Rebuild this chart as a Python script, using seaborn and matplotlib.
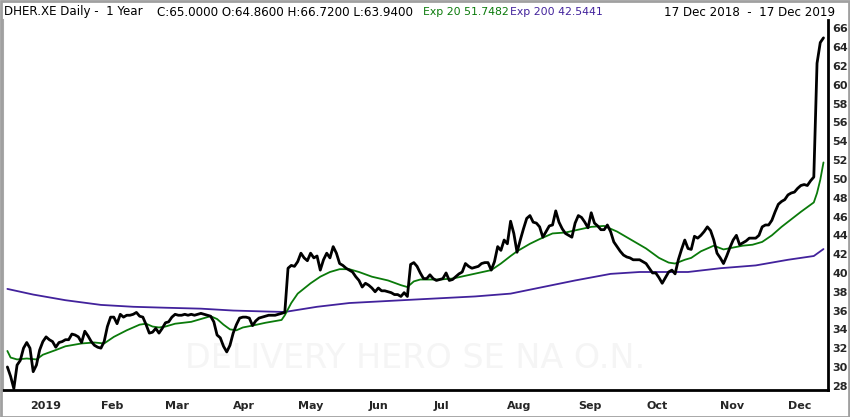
import numpy as np
import pandas as pd
import matplotlib
matplotlib.use("Agg")
import matplotlib.pyplot as plt
import seaborn as sns

# Xetra sessions 17 Dec 2018 - 17 Dec 2019
holidays = ["2018-12-24", "2018-12-25", "2018-12-26", "2018-12-31",
            "2019-01-01", "2019-04-19", "2019-04-22", "2019-05-01"]
sessions = pd.bdate_range("2018-12-17", "2019-12-17", freq="C", holidays=holidays)

# daily close (one value per session)
close = [
    30.0, 29.0, 27.7, 30.2, 30.7, 32.0, 32.6, 32.0, 29.5, 30.2,
    31.8, 32.7, 33.2, 32.9, 32.7, 32.1, 32.6, 32.7, 32.9, 32.9,
    33.5, 33.4, 33.2, 32.6, 33.8, 33.3, 32.7, 32.3, 32.1, 32.0,
    32.7, 34.3, 35.3, 35.3, 34.6, 35.6, 35.3, 35.5, 35.5, 35.6,
    35.8, 35.4, 35.3, 34.5, 33.6, 33.7, 34.1, 33.6, 34.1, 34.7,
    34.8, 35.3, 35.6, 35.5, 35.5, 35.6, 35.5, 35.6, 35.5, 35.6,
    35.7, 35.6, 35.5, 35.4, 34.8, 33.4, 33.1, 32.2, 31.6, 32.3,
    33.6, 34.5, 35.2, 35.3, 35.3, 35.2, 34.4, 34.9, 35.2, 35.3,
    35.4, 35.5, 35.5, 35.5, 35.6, 35.7, 35.8, 40.5, 40.8, 40.7,
    41.2, 42.1, 41.6, 41.3, 42.1, 41.6, 41.8, 40.3, 41.4, 42.1,
    41.6, 42.8, 42.1, 41.0, 40.8, 40.5, 40.3, 40.1, 39.6, 39.2,
    38.5, 38.9, 38.7, 38.4, 38.0, 38.4, 38.1, 38.1, 38.0, 37.9,
    37.7, 37.7, 37.5, 37.9, 37.5, 40.9, 41.1, 40.7, 40.0, 39.4,
    39.4, 39.8, 39.4, 39.2, 39.3, 39.4, 40.0, 39.2, 39.3, 39.6,
    39.9, 40.1, 41.0, 40.7, 40.5, 40.6, 40.7, 41.0, 41.1, 41.1,
    40.3, 41.2, 42.8, 42.4, 43.5, 43.1, 45.5, 44.2, 42.2, 43.5,
    44.7, 45.8, 46.1, 45.4, 45.3, 44.9, 43.8, 44.4, 45.0, 45.1,
    46.6, 45.4, 44.7, 44.2, 44.0, 43.8, 45.3, 46.1, 45.9, 45.4,
    44.8, 46.4, 45.3, 45.0, 44.6, 44.6, 45.1, 44.4, 43.3, 42.8,
    42.3, 41.9, 41.7, 41.6, 41.4, 41.4, 41.4, 41.2, 41.0, 40.5,
    40.0, 40.0, 39.5, 38.9, 39.5, 40.1, 40.3, 39.9, 41.4, 42.5,
    43.5, 42.6, 42.5, 43.9, 43.7, 44.0, 44.4, 44.9, 44.5, 43.5,
    42.1, 41.6, 41.0, 41.8, 42.7, 43.5, 44.0, 43.0, 43.2, 43.4,
    43.7, 43.7, 43.7, 44.0, 44.9, 45.1, 45.1, 45.6, 46.5, 47.3,
    47.6, 47.8, 48.3, 48.5, 48.6, 49.0, 49.3, 49.4, 49.3, 49.8,
    50.2, 62.3, 64.5, 65.0,
]

# exponential averages, read at selected sessions
ema20_session = [0, 1, 3, 6, 9, 11, 15, 18, 23, 27, 30, 33, 37, 41, 43, 45, 47, 49,
                 52, 57, 60, 63, 65, 67, 69, 71, 73, 76, 80, 85, 86, 88, 90, 94, 97,
                 100, 103, 106, 109, 113, 118, 122, 124, 126, 128, 130, 134, 138,
                 142, 146, 150, 153, 156, 158, 162, 165, 169, 173, 177, 181, 185,
                 189, 193, 198, 202, 205, 207, 210, 212, 215, 217, 219, 222, 225,
                 228, 231, 234, 237, 240, 243, 246, 250, 251, 252, 253]
ema20 = [31.7, 31.0, 30.8, 30.9, 30.8, 31.3, 31.8, 32.2, 32.5, 32.6, 32.5, 33.2,
         33.9, 34.5, 34.6, 34.3, 34.2, 34.3, 34.6, 34.8, 35.1, 35.4, 35.1, 34.5,
         34.0, 33.9, 34.2, 34.4, 34.7, 35.0, 35.5, 36.8, 37.8, 38.9, 39.6, 40.1,
         40.4, 40.4, 40.1, 39.6, 39.2, 38.7, 38.5, 39.1, 39.3, 39.3, 39.3, 39.4,
         39.7, 40.0, 40.3, 41.0, 41.8, 42.3, 43.1, 43.6, 44.2, 44.3, 44.6, 44.9,
         45.0, 44.4, 43.6, 42.6, 41.6, 41.1, 41.0, 41.4, 41.6, 42.3, 42.6, 42.9,
         42.5, 42.7, 42.9, 43.0, 43.3, 44.0, 44.9, 45.7, 46.5, 47.5, 48.5, 49.9,
         51.75]

ema200_session = [0, 8, 18, 29, 39, 49, 60, 70, 80, 86, 96, 106, 117, 128, 145,
                  156, 166, 176, 187, 196, 211, 221, 232, 242, 250, 253]
ema200 = [38.3, 37.7, 37.1, 36.6, 36.4, 36.3, 36.2, 36.0, 35.9, 35.85, 36.4, 36.8,
          37.0, 37.2, 37.5, 37.8, 38.5, 39.2, 39.9, 40.1, 40.1, 40.5, 40.8, 41.4,
          41.8, 42.54]

month_labels = ["2019", "Feb", "Mar", "Apr", "May", "Jun", "Jul", "Aug", "Sep",
                "Oct", "Nov", "Dec"]
y_ticks = list(range(28, 67, 2))

price_df = pd.DataFrame({"session": np.arange(len(sessions)), "close": close})
ema20_df = pd.DataFrame({"session": ema20_session, "value": ema20})
ema200_df = pd.DataFrame({"session": ema200_session, "value": ema200})

# first session of each month in 2019
month_start = pd.Series(np.arange(len(sessions)), index=sessions)
month_start = month_start[month_start.index.year == 2019]
month_pos = month_start.groupby(month_start.index.month).min().values

sns.set_style("white")
plt.rcParams["font.family"] = ["DejaVu Sans"]

W, H = 850, 417
fig = plt.figure(figsize=(W / 100, H / 100), dpi=100)
ax = fig.add_axes([3 / W, 1 - 390 / H, 825 / W, 370 / H])

sns.lineplot(data=ema200_df, x="session", y="value", ax=ax, color="#42229c", lw=1.3)
sns.lineplot(data=ema20_df, x="session", y="value", ax=ax, color="#0a7a0a", lw=1.3)
sns.lineplot(data=price_df, x="session", y="close", ax=ax, color="black", lw=2.0)

ax.set_xlim(-1.36, 254.4)
ax.set_ylim(27.55, 66.9)
ax.set_xlabel("")
ax.set_ylabel("")

ax.set_xticks(month_pos)
ax.set_xticklabels(month_labels, ha="left", fontsize=8, fontweight="bold")
ax.tick_params(axis="x", direction="out", length=5, width=1.5, color="black", pad=3)

ax.yaxis.tick_right()
ax.set_yticks(y_ticks)
ax.set_yticklabels([str(v) for v in y_ticks], fontsize=8, fontweight="bold")
ax.tick_params(axis="y", length=0, pad=3)

ax.spines["top"].set_visible(False)
ax.spines["left"].set_color("#a8a8a8")
ax.spines["left"].set_linewidth(1.5)
ax.spines["bottom"].set_color("black")
ax.spines["bottom"].set_linewidth(2)
ax.spines["right"].set_color("black")
ax.spines["right"].set_linewidth(2)

# watermark
ax.text(0.5, 0.085, "DELIVERY HERO SE NA O.N.", transform=ax.transAxes, ha="center",
        va="center", fontsize=24, color="#f5f5f5", zorder=0)

# header line
hy = 1 - 12 / H
fig.text(4 / W, hy, "DHER.XE Daily -  1 Year", fontsize=8.6, va="center", color="black")
fig.text(157 / W, hy, "C:65.0000 O:64.8600 H:66.7200 L:63.9400", fontsize=8.6,
         va="center", color="black")
fig.text(423 / W, hy, "Exp 20 51.7482", fontsize=7.8, va="center", color="#0a7a0a")
fig.text(510 / W, hy, "Exp 200 42.5441", fontsize=7.8, va="center", color="#42229c")
fig.text(835 / W, hy, "17 Dec 2018  -  17 Dec 2019", fontsize=8.6, va="center",
         ha="right", color="black")

# outer frame
fig.patches.append(plt.Rectangle((0.001, 0.001), 0.998, 0.997, transform=fig.transFigure,
                                 fill=False, edgecolor="#a0a0a0", lw=2))

fig.savefig("out.png", dpi=100)
